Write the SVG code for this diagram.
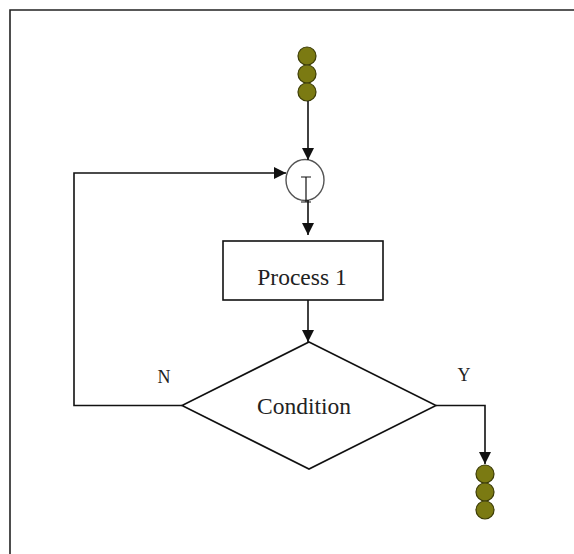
<svg xmlns="http://www.w3.org/2000/svg" width="574" height="554" viewBox="0 0 574 554">
<defs>
<style>
.ln{fill:none;stroke:#111;stroke-width:1.6}
.shape{fill:#fff;stroke:#111;stroke-width:1.6}
.dot{fill:#7b7a12;stroke:#3c3c05;stroke-width:1.2}
.lbl{font-family:"Liberation Serif","Times New Roman",serif;fill:#222;text-anchor:middle}
</style>
<marker id="ah" viewBox="0 0 12 12" refX="12" refY="6" markerWidth="12" markerHeight="12" markerUnits="userSpaceOnUse" orient="auto">
<path d="M0,0 L12,6 L0,12 Z" fill="#111"/>
</marker>
</defs>
<rect width="574" height="554" fill="#fff"/>
<path d="M10,554 L10,10 L574,10" fill="none" stroke="#222" stroke-width="1.6"/>

<g id="start">
<circle class="dot" cx="307" cy="56" r="9"/>
<circle class="dot" cx="307" cy="74" r="9"/>
<circle class="dot" cx="307" cy="92" r="9"/>
</g>

<g id="junction">
<ellipse cx="305" cy="180" rx="19" ry="20.5" fill="#fff" stroke="#555" stroke-width="1.4"/>
<path d="M301,177 H311 M306,177 V202 M301,202 H311" fill="none" stroke="#111" stroke-width="1.2"/>
</g>

<g id="process1">
<rect class="shape" x="223" y="241" width="160" height="59"/>
<text class="lbl" x="302" y="285" font-size="23.5">Process 1</text>
</g>

<g id="condition">
<polygon class="shape" points="309,342 436,405.5 309,469 182,405.5"/>
<text class="lbl" x="304" y="414" font-size="23.5">Condition</text>
</g>

<g id="end">
<circle class="dot" cx="485" cy="474" r="9"/>
<circle class="dot" cx="485" cy="492" r="9"/>
<circle class="dot" cx="485" cy="510" r="9"/>
</g>

<g id="connectors">
<path class="ln" d="M308,101 L308,160" marker-end="url(#ah)"/>
<path class="ln" d="M308,200 L308,235" marker-end="url(#ah)"/>
<path class="ln" d="M308,300 L308,342" marker-end="url(#ah)"/>
<path class="ln" d="M182,405.5 L74,405.5 L74,173 L286,173" marker-end="url(#ah)"/>
<path class="ln" d="M436,405.5 L485,405.5 L485,464" marker-end="url(#ah)"/>
<text class="lbl" x="164" y="383" font-size="18">N</text>
<text class="lbl" x="464" y="381" font-size="18">Y</text>
</g>
</svg>
